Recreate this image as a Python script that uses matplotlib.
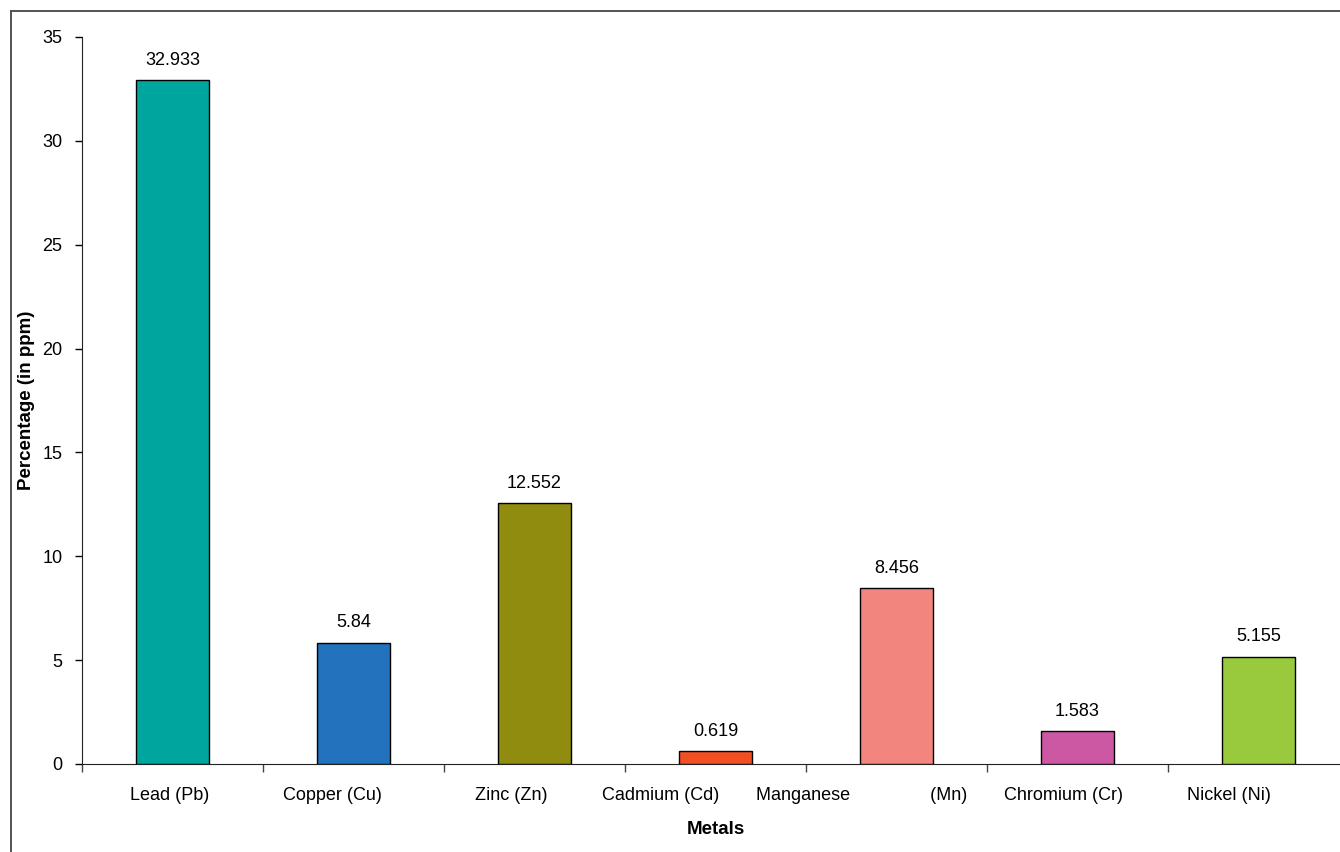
import matplotlib
matplotlib.use("Agg")
import matplotlib.pyplot as plt
from matplotlib.patches import Rectangle
from matplotlib.transforms import ScaledTranslation
import numpy as np

plt.rcParams.update({
    "font.family": ["Liberation Sans", "DejaVu Sans"],
    "font.size": 13,
})

metals = ["Lead (Pb)", "Copper (Cu)", "Zinc (Zn)", "Cadmium (Cd)",
          "Manganese                (Mn)", "Chromium (Cr)", "Nickel (Ni)"]
values = [32.933, 5.84, 12.552, 0.619, 8.456, 1.583, 5.155]
value_text = ["32.933", "5.84", "12.552", "0.619", "8.456", "1.583", "5.155"]
colors = ["#00a59d", "#2272bd", "#8f8c10", "#f25022",
          "#f2857e", "#cc57a3", "#99c93d"]
yticks = [0, 5, 10, 15, 20, 25, 30, 35]

# horizontal nudge (px) of each category label from its bar centre
label_shift = [-3, -21, -23, -55, -35, -14, -30]

W, H = 1340, 852
fig = plt.figure(figsize=(W / 100, H / 100), dpi=100)

# outer frame, runs off the right and bottom edges
fig.patches.append(Rectangle((11 / W, -0.1), 1.2, (H - 11) / H + 0.1,
                             transform=fig.transFigure, fill=False,
                             edgecolor="#444444", lw=1.3))

# plot area ends just past the right edge of the canvas
ax = fig.add_axes([82 / W, 88 / H, (1349 - 82) / W, (764 - 37) / H])

x = np.arange(len(metals))
ax.bar(x, values, width=0.4, color=colors, edgecolor="black", lw=1.0, zorder=3)
for xi, v, t in zip(x, values, value_text):
    ax.text(xi, v + 0.55, t, ha="center", va="bottom", fontsize=13)

ax.set_xlim(-0.5, 6.5)
ax.set_ylim(0, 35)
ax.set_yticks(yticks)
ax.tick_params(axis="y", direction="out", length=5, width=1, pad=9,
               labelsize=13)

# tick marks between categories
ax.set_xticks(np.arange(-0.5, 7, 1.0))
ax.set_xticklabels([])
ax.tick_params(axis="x", which="major", direction="out", length=6, width=1,
               color="#444444")

# category labels under the bars
for xi, name, dx in zip(x, metals, label_shift):
    ax.text(xi, 0, name,
            transform=ax.get_xaxis_transform()
            + ScaledTranslation(dx / 100, -0.31, fig.dpi_scale_trans),
            ha="center", va="center", fontsize=13)

for side in ("top", "right"):
    ax.spines[side].set_visible(False)
ax.spines["left"].set_color("#222222")
ax.spines["bottom"].set_color("#222222")

ax.set_xlabel("Metals", fontweight="bold", fontsize=13.5)
ax.xaxis.set_label_coords(0.5, -0.079)
ax.set_ylabel("Percentage (in ppm)", fontweight="bold", fontsize=13.5,
              labelpad=5)

fig.savefig("out.png", dpi=100)
